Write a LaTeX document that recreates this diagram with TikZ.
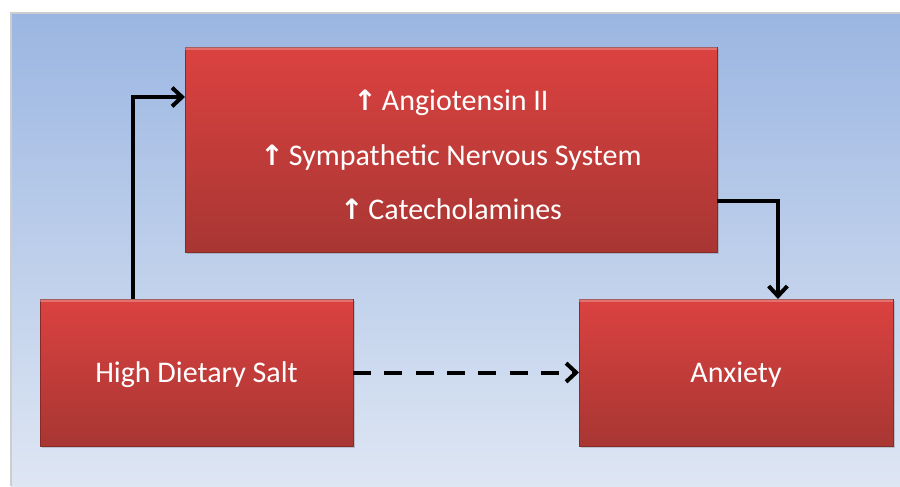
\documentclass[tikz,border=0pt]{standalone}
\usepackage{fontspec}
\setmainfont{Carlito}
\newfontfamily\arrowfont{DejaVu Sans}
\usetikzlibrary{arrows.meta,shadows}
\definecolor{bgtop}{RGB}{155,182,226}
\definecolor{bgbot}{RGB}{222,230,243}
\definecolor{boxtop}{RGB}{219,66,64}
\definecolor{boxbot}{RGB}{168,54,51}
\definecolor{frame}{RGB}{205,205,205}
\tikzset{
  redbox/.style={rectangle, inner sep=0pt, outer sep=0pt,
    top color=boxtop, bottom color=boxbot, draw=boxbot!80!black, line width=0.5pt,
    drop shadow={shadow xshift=1.2pt, shadow yshift=-1.5pt, opacity=0.35}},
  boxtext/.style={text=white, font=\fontsize{22.5}{41}\selectfont, align=center, inner sep=0pt},
  conn/.style={line width=3pt, draw=black, -{Straight Barb[length=7.5pt,width=14pt,line width=3pt]}},
  dashconn/.style={conn, dash pattern=on 13.5pt off 10pt}
}
\newcommand{\upar}{{\arrowfont\fontsize{21}{21}\selectfont\textbf{↑}}\,}
\begin{document}
\begin{tikzpicture}[x=0.75pt,y=-0.75pt]
\useasboundingbox (0,0) rectangle (900,486);
\fill[white] (0,0) rectangle (900,486);
\shade[top color=bgtop, bottom color=bgbot] (11,13) rectangle (900,486);
\draw[frame, line width=1.5pt] (11,486) -- (11,13) -- (900,13);
\node[redbox, minimum width=399pt, minimum height=153.75pt] (top) at (451,149.5) {};
\node[redbox, minimum width=234.75pt, minimum height=110.25pt] (salt) at (196.5,372.5) {};
\node[redbox, minimum width=235.5pt, minimum height=110.25pt] (anx) at (736,372.5) {};
\fill[white, opacity=0.25] (top.north west) rectangle ([yshift=-2pt]top.north east);
\fill[white, opacity=0.25] (salt.north west) rectangle ([yshift=-2pt]salt.north east);
\fill[white, opacity=0.25] (anx.north west) rectangle ([yshift=-2pt]anx.north east);
\node[boxtext] (toptext) at (451,155) {\upar Angiotensin II\\ \upar Sympathetic Nervous System\\ \upar Catecholamines};
\node[boxtext] (salttext) at (196.5,375) {High Dietary Salt};
\node[boxtext] (anxtext) at (736,375) {Anxiety};
\coordinate (k1) at (133,97);
\coordinate (k2) at (778,201);
\draw[conn] (salt.north -| k1) |- (top.west |- k1);
\draw[conn] (top.east |- k2) -| (anx.north -| k2);
\draw[dashconn] (salt.east) -- (anx.west);
\end{tikzpicture}
\end{document}
